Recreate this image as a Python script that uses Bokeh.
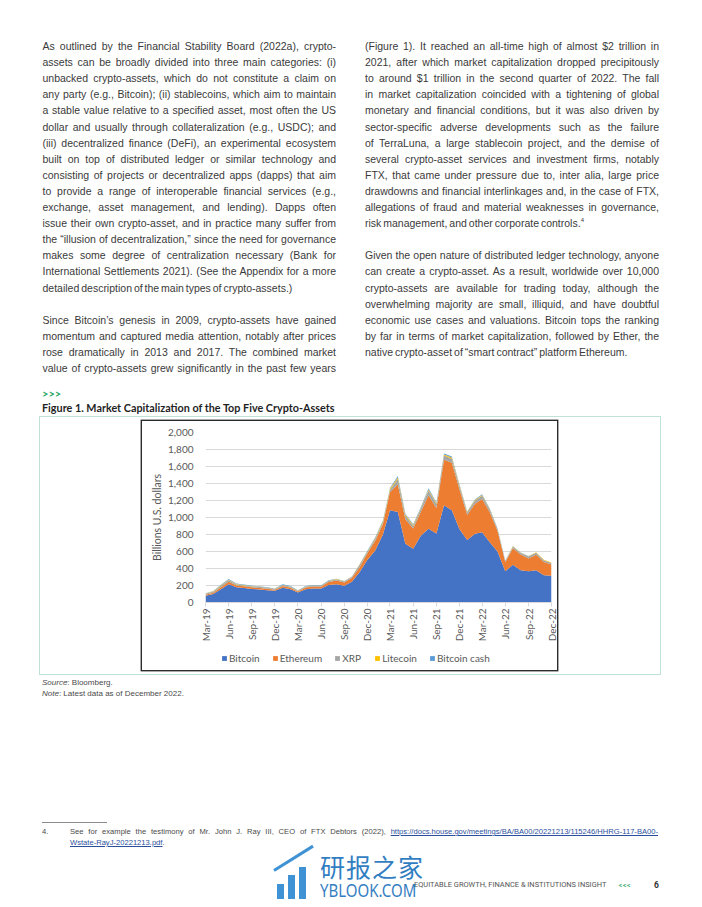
import math
import pandas as pd
from bokeh.plotting import figure
from bokeh.models import (ColumnDataSource, Div, Spacer, Legend, LegendItem, MonthsTicker,
                          DatetimeTickFormatter, NumeralTickFormatter, FixedTicker, Range1d)
from bokeh.layouts import column, row
from bokeh.embed import file_html
from bokeh.resources import INLINE

# ---------------- data (billions of U.S. dollars, monthly, Mar-2019 .. Dec-2022) ----------------
months = pd.date_range("2019-03-01", "2022-12-01", freq="MS")
bitcoin = [78, 100, 155, 215, 180, 172, 160, 152, 145, 137, 175, 155, 117, 157, 166, 165, 205, 215, 197, 245,
           360, 500, 610, 800, 1084, 1064, 690, 631, 785, 868, 812, 1143, 1084, 866, 735, 808, 827, 705, 600,
           368, 444, 380, 367, 378, 322, 315]
ethereum = [12, 14, 24, 29, 20, 18, 18, 19, 16, 14, 18, 20, 13, 20, 23, 22, 36, 44, 38, 43,
            55, 80, 115, 125, 215, 325, 290, 240, 280, 395, 300, 535, 560, 470, 295, 355, 390, 355, 245,
            105, 195, 185, 150, 185, 155, 133]
xrp = [13, 12.5, 17, 17, 13, 11, 11, 13, 10, 8.4, 10.5, 10.4, 7.5, 9, 9, 8, 11, 12.5, 11, 11,
       28, 10, 22, 20, 26, 63, 42, 30, 35, 55, 45, 50, 48, 39, 29, 37, 40, 30, 19,
       15, 18, 16, 24, 23, 20, 17]
litecoin = [3.6, 4.6, 7, 8, 6, 4.5, 3.5, 3.5, 3, 2.7, 3.8, 3.9, 2.5, 2.8, 2.9, 2.7, 3.8, 4, 3.1, 3.7,
            5.8, 8.4, 9.5, 11.6, 13, 18, 12, 9.5, 9.5, 12, 10.5, 13.5, 14.5, 10, 7.5, 8, 8.5, 7, 4.7,
            3.6, 4, 3.9, 3.9, 3.9, 5, 5.1]
bitcoin_cash = [2.8, 5, 7, 7, 5, 5, 4, 5, 4, 3.7, 6.8, 6.2, 4.5, 4.5, 4.5, 4.1, 4.6, 5.2, 4.2, 4.6,
                5.5, 6.3, 7.6, 9.5, 9.7, 17, 11, 9, 10, 13, 9.5, 11, 10.5, 8, 5.5, 6, 7, 5.5, 3.7,
                2.1, 2.5, 2.4, 2.2, 2.1, 2, 1.9]

series_names = ["Bitcoin", "Ethereum", "XRP", "Litecoin", "Bitcoin cash"]
series_cols = ["bitcoin", "ethereum", "xrp", "litecoin", "bitcoin_cash"]
series_colors = ["#4472C4", "#ED7D31", "#A5A5A5", "#FFC000", "#5B9BD5"]
y_ticks = [0, 200, 400, 600, 800, 1000, 1200, 1400, 1600, 1800, 2000]
y_title = "Billions U.S. dollars"

source = ColumnDataSource(dict(date=months, bitcoin=bitcoin, ethereum=ethereum, xrp=xrp,
                               litecoin=litecoin, bitcoin_cash=bitcoin_cash))

# ---------------- chart ----------------
p = figure(width=415, height=226, x_axis_type="datetime", output_backend="svg", toolbar_location=None,
           x_range=Range1d(months[0], months[-1]), y_range=Range1d(0, 2000),
           min_border_left=63, min_border_right=6, min_border_top=11, min_border_bottom=45)
p.outline_line_color = None
p.background_fill_color = "white"
p.border_fill_color = "white"

renderers = p.varea_stack(stackers=series_cols, x="date", color=series_colors, source=source)

p.xgrid.visible = False
p.ygrid.grid_line_color = "#d9d9d9"
p.ygrid.grid_line_width = 1

xa = p.xaxis[0]
xa.ticker = MonthsTicker(months=[2, 5, 8, 11])   # BokehJS months are 0-based: Mar, Jun, Sep, Dec
xa.formatter = DatetimeTickFormatter(days="%b-%y", months="%b-%y", years="%b-%y")
xa.major_label_orientation = math.pi / 2
xa.axis_line_color = "#d9d9d9"
xa.major_tick_line_color = "#d9d9d9"
xa.major_tick_out = 4
xa.major_tick_in = 0
xa.minor_tick_line_color = None
xa.major_label_standoff = 2
xa.major_label_text_font = "Lato"
xa.major_label_text_font_size = "10px"
xa.major_label_text_color = "#595959"

ya = p.yaxis[0]
ya.ticker = FixedTicker(ticks=y_ticks)
ya.formatter = NumeralTickFormatter(format="0,0")
ya.axis_line_color = None
ya.major_tick_line_color = None
ya.minor_tick_line_color = None
ya.major_label_standoff = 6
ya.major_label_text_font = "Lato"
ya.major_label_text_font_size = "10px"
ya.major_label_text_color = "#595959"
ya.axis_label = y_title
ya.axis_label_standoff = 2
ya.axis_label_text_font = "Lato"
ya.axis_label_text_font_size = "10.5px"
ya.axis_label_text_font_style = "normal"
ya.axis_label_text_color = "#595959"

# legend strip: a second, axis-less plot sharing the x range; its y range lies far above the data,
# so the stacked areas are off-screen and only the legend shows
p_leg = figure(width=415, height=23, x_range=p.x_range, y_range=Range1d(100000, 200000),
               output_backend="svg", toolbar_location=None, x_axis_location=None, y_axis_location=None,
               min_border_left=0, min_border_right=0, min_border_top=0, min_border_bottom=0)
p_leg.outline_line_color = None
p_leg.grid.visible = False
p_leg.background_fill_color = "white"
p_leg.border_fill_color = "white"
leg_renderers = p_leg.varea_stack(stackers=series_cols, x="date", color=series_colors, source=source)

legend = Legend(items=[LegendItem(label=n, renderers=[r]) for n, r in zip(series_names, leg_renderers)],
                orientation="horizontal", location=(16, 6))
legend.glyph_width = 6
legend.glyph_height = 6
legend.label_standoff = 2
legend.spacing = 12
legend.padding = 2
legend.margin = 0
legend.border_line_color = None
legend.background_fill_alpha = 0
legend.label_text_font = "Lato"
legend.label_text_font_size = "10px"
legend.label_text_color = "#595959"
p_leg.add_layout(legend, "center")

chart_box = column(p, p_leg, styles={"box-shadow": "0 0 0 1.4px #2b2b2b"})

# ---------------- page text ----------------
BODY = "font-family:'Liberation Sans',Arial,sans-serif;color:#3a3a3a;"

left_lines = [
    ("As outlined by the Financial Stability Board (2022a), crypto-", True),
    ("assets can be broadly divided into three main categories: (i)", True),
    ("unbacked crypto-assets, which do not constitute a claim on", True),
    ("any party (e.g., Bitcoin); (ii) stablecoins, which aim to maintain", True),
    ("a stable value relative to a specified asset, most often the US", True),
    ("dollar and usually through collateralization (e.g., USDC); and", True),
    ("(iii) decentralized finance (DeFi), an experimental ecosystem", True),
    ("built on top of distributed ledger or similar technology and", True),
    ("consisting of projects or decentralized apps (dapps) that aim", True),
    ("to provide a range of interoperable financial services (e.g.,", True),
    ("exchange, asset management, and lending). Dapps often", True),
    ("issue their own crypto-asset, and in practice many suffer from", True),
    ("the \u201cillusion of decentralization,\u201d since the need for governance", True),
    ("makes some degree of centralization necessary (Bank for", True),
    ("International Settlements 2021). (See the Appendix for a more", True),
    ("detailed description of the main types of crypto-assets.)", False),
    None,
    ("Since Bitcoin\u2019s genesis in 2009, crypto-assets have gained", True),
    ("momentum and captured media attention, notably after prices", True),
    ("rose dramatically in 2013 and 2017. The combined market", True),
    ("value of crypto-assets grew significantly in the past few years", True),
]
right_lines = [
    ("(Figure 1). It reached an all-time high of almost $2 trillion in", True),
    ("2021, after which market capitalization dropped precipitously", True),
    ("to around $1 trillion in the second quarter of 2022. The fall", True),
    ("in market capitalization coincided with a tightening of global", True),
    ("monetary and financial conditions, but it was also driven by", True),
    ("sector-specific adverse developments such as the failure", True),
    ("of TerraLuna, a large stablecoin project, and the demise of", True),
    ("several crypto-asset services and investment firms, notably", True),
    ("FTX, that came under pressure due to, inter alia, large price", True),
    ("drawdowns and financial interlinkages and, in the case of FTX,", True),
    ("allegations of fraud and material weaknesses in governance,", True),
    ("risk management, and other corporate controls.<sup style='font-size:6px;vertical-align:5px;line-height:0'>4</sup>", False),
    None,
    ("Given the open nature of distributed ledger technology, anyone", True),
    ("can create a crypto-asset. As a result, worldwide over 10,000", True),
    ("crypto-assets are available for trading today, although the", True),
    ("overwhelming majority are small, illiquid, and have doubtful", True),
    ("economic use cases and valuations. Bitcoin tops the ranking", True),
    ("by far in terms of market capitalization, followed by Ether, the", True),
    ("native crypto-asset of \u201csmart contract\u201d platform Ethereum.", False),
]


def lines_html(lines, left, width):
    out = []
    for k, ln in enumerate(lines):
        if ln is None:
            continue
        txt, just = ln
        top = 38 + 16.1 * k
        align = "text-align:justify;text-align-last:justify;" if just else "text-align:left;"
        out.append(
            f"<div style=\"position:absolute;left:{left}px;top:{top:.1f}px;width:{width}px;height:16px;"
            f"line-height:16px;font-size:10.5px;word-spacing:-1px;{align}{BODY}\">{txt}</div>")
    return "".join(out)


top_html = (
    "<div style='position:relative;width:702px;height:421px;overflow:visible;'>"
    + lines_html(left_lines, 42.5, 293.5)
    + lines_html(right_lines, 365, 294)
    + "<div style=\"position:absolute;left:42px;top:388px;height:11px;line-height:11px;font-family:Lato,sans-serif;"
      "font-weight:bold;font-size:11px;color:#2fa866;letter-spacing:0px;\">&gt;&gt;&gt;</div>"
    + "<div style=\"position:absolute;left:42px;top:401.5px;height:11px;line-height:11px;font-family:Lato,sans-serif;"
      "font-weight:bold;font-size:10.8px;color:#1f1f1f;white-space:nowrap;\">"
      "Figure 1. Market Capitalization of the Top Five Crypto-Assets</div>"
    + "</div>"
)
div_top = Div(text=top_html, width=702, height=421, margin=0, styles={"overflow": "visible"})

SMALL = "font-family:'Liberation Sans',Arial,sans-serif;color:#4a4a4a;"
bottom_html = (
    "<div style='position:relative;width:702px;height:237px;overflow:visible;'>"
    f"<div style=\"position:absolute;left:42px;top:8px;line-height:10px;font-size:8px;white-space:nowrap;{SMALL}\">"
    "<i>Source</i>: Bloomberg.</div>"
    f"<div style=\"position:absolute;left:42px;top:19px;line-height:10px;font-size:8px;white-space:nowrap;{SMALL}\">"
    "<i>Note</i>: Latest data as of December 2022.</div>"
    "<div style='position:absolute;left:42px;top:152px;width:65px;height:0;border-top:1px solid #8a8a8a;'></div>"
    f"<div style=\"position:absolute;left:42px;top:157px;line-height:10px;font-size:7.6px;{SMALL}\">4.</div>"
    f"<div style=\"position:absolute;left:70px;top:157px;width:588px;line-height:10px;font-size:7.6px;"
    f"text-align:justify;text-align-last:justify;word-spacing:-0.5px;{SMALL}\">"
    "See for example the testimony of Mr. John J. Ray III, CEO of FTX Debtors (2022), "
    "<span style='color:#2b4f9e;text-decoration:underline;'>https://docs.house.gov/meetings/BA/BA00/20221213/115246/HHRG-117-BA00-</span></div>"
    f"<div style=\"position:absolute;left:70px;top:168px;line-height:10px;font-size:7.6px;white-space:nowrap;{SMALL}\">"
    "<span style='color:#2b4f9e;text-decoration:underline;'>Wstate-RayJ-20221213.pdf</span>.</div>"
    "<div style=\"position:absolute;left:414px;top:210px;line-height:10px;font-family:Roboto,sans-serif;font-size:8px;"
    "color:#555555;white-space:nowrap;transform:scaleX(0.93);transform-origin:left center;\">"
    "EQUITABLE GROWTH, FINANCE &amp; INSTITUTIONS INSIGHT</div>"
    "<div style=\"position:absolute;left:618px;top:210px;line-height:10px;font-family:Lato,sans-serif;font-size:8px;"
    "font-weight:bold;color:#2fa866;letter-spacing:-0.5px;\">&lt;&lt;&lt;</div>"
    "<div style=\"position:absolute;left:654px;top:210px;line-height:10px;font-family:Roboto,sans-serif;font-size:8.5px;"
    "font-weight:bold;color:#333333;\">6</div>"
    # watermark
    "<div style='position:absolute;left:277px;top:214px;width:7px;height:15px;background:#2a86cf;opacity:0.9;'></div>"
    "<div style='position:absolute;left:288px;top:205px;width:7px;height:24px;background:#2a86cf;opacity:0.9;'></div>"
    "<div style='position:absolute;left:299px;top:197px;width:7px;height:32px;background:#2a86cf;opacity:0.9;'></div>"
    "<div style='position:absolute;left:274px;top:199px;width:46px;height:3px;background:#2a86cf;opacity:0.9;"
    "transform:rotate(-32deg);transform-origin:left center;'></div>"
    "<div style=\"position:absolute;left:320px;top:182px;line-height:28px;font-family:'Noto Sans CJK SC',sans-serif;"
    "font-size:25px;color:#1f74bd;opacity:0.92;white-space:nowrap;letter-spacing:1px;\">研报之家</div>"
    "<div style=\"position:absolute;left:320px;top:211px;line-height:16px;font-family:'Noto Sans',sans-serif;"
    "font-size:15px;color:#1f74bd;opacity:0.92;white-space:nowrap;transform:scaleY(1.15);transform-origin:left top;\">"
    "YBLOOK.COM</div>"
    "</div>"
)
div_bottom = Div(text=bottom_html, width=702, height=237, margin=0, styles={"overflow": "visible"})

chart_row = row(Spacer(width=98, height=249), chart_box, Spacer(width=99, height=249),
                styles={"outline": "1px solid #bfe2d5", "outline-offset": "4px"})
layout = column(div_top, row(Spacer(width=44, height=249), chart_row), div_bottom)

open("out.html", "w").write(file_html(layout, INLINE))
